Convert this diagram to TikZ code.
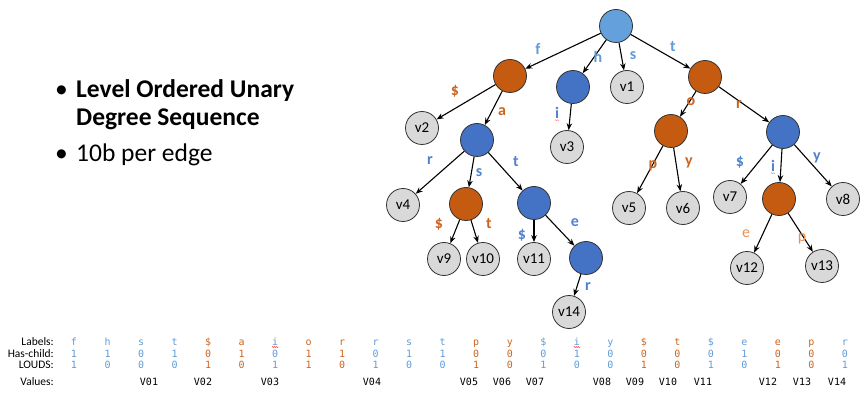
\documentclass[tikz,border=0pt]{standalone}
\usepackage{fontspec}
\setmainfont{Carlito}
\newfontfamily\tabfont{DejaVu Sans Mono}
\usetikzlibrary{arrows.meta,decorations.pathmorphing}
\definecolor{rootblue}{RGB}{100,160,220}
\definecolor{nodeblue}{RGB}{68,114,196}
\definecolor{nodeorange}{RGB}{197,90,17}
\definecolor{leafgray}{RGB}{217,217,217}
\definecolor{labroot}{RGB}{95,155,215}
\definecolor{labblue}{RGB}{80,130,210}
\definecolor{laborange}{RGB}{205,100,30}
\definecolor{lightorange}{RGB}{232,145,85}

\begin{document}
\begin{tikzpicture}
[x=1pt,y=-1pt,
 trie/.style={circle,draw=black!80,line width=.8pt,minimum size=33pt,inner sep=0pt},
 rootn/.style={trie,fill=rootblue},
 bnode/.style={trie,fill=nodeblue},
 onode/.style={trie,fill=nodeorange},
 leaf/.style={trie,fill=leafgray,font=\fontsize{15}{15}\selectfont},
 edge/.style={line width=1.1pt,-{Stealth[length=7pt,width=5.5pt]}},
 elab/.style={inner sep=0pt,font=\bfseries\fontsize{16}{16}\selectfont},
 cell/.style={inner sep=0pt,anchor=base,font=\tabfont\fontsize{10}{10}\selectfont},
 head/.style={inner sep=0pt,anchor=base east,font=\fontsize{11.5}{12}\selectfont},
 btxt/.style={inner sep=0pt,anchor=base west,font=\fontsize{25.5}{28}\selectfont},
 squig/.style={red!75,line width=.5pt,decorate,decoration={snake,amplitude=.5pt,segment length=2pt}}]
\useasboundingbox (0,0) rectangle (867,395);
% bullets
\node[btxt] (b1) at (55,98) {•};
\node[btxt,font=\bfseries\fontsize{25.5}{28}\selectfont] (t1) at (76,98) {Level Ordered Unary};
\node[btxt,font=\bfseries\fontsize{25.5}{28}\selectfont] (t2) at (76,126) {Degree Sequence};
\node[btxt] (b2) at (55,162) {•};
\node[btxt] (t3) at (76,162) {10b per edge};
% trie nodes
\node[rootn] (root) at (616,26) {};
\node[onode] (nf) at (510,76) {};
\node[bnode] (nh) at (573,87) {};
\node[leaf] (v1) at (627,87) {v1};
\node[onode] (nt) at (705,77) {};
\node[leaf] (v2) at (422,128) {v2};
\node[bnode] (na) at (477,140) {};
\node[leaf] (v3) at (567,147) {v3};
\node[onode] (no) at (671,131) {};
\node[bnode] (nr) at (783,132) {};
\node[leaf] (v4) at (403,205) {v4};
\node[onode] (ns) at (466,204) {};
\node[bnode] (nat) at (534,203) {};
\node[leaf] (v5) at (629,208) {v5};
\node[leaf] (v6) at (683,208) {v6};
\node[leaf] (v7) at (730,197) {v7};
\node[onode] (ni) at (779,199) {};
\node[leaf] (v8) at (843,199) {v8};
\node[leaf] (v9) at (444,259) {v9};
\node[leaf] (v10) at (483,259) {v10};
\node[leaf] (v11) at (534,259) {v11};
\node[bnode] (ne) at (586,258) {};
\node[leaf] (v12) at (747,268) {v12};
\node[leaf] (v13) at (822,266) {v13};
\node[leaf] (v14) at (569,312) {v14};
\foreach \from/\to in {root/nf,root/nh,root/v1,root/nt,nf/v2,nf/na,nh/v3,nt/no,nt/nr,
  na/v4,na/ns,na/nat,no/v5,no/v6,nr/v7,nr/ni,nr/v8,ns/v9,ns/v10,nat/v11,nat/ne,
  ni/v12,ni/v13,ne/v14}
\draw[edge] (\from) -- (\to);
% edge labels
\node[elab,text=labroot] (lf) at (538,49) {f};
\node[elab,text=labroot] (lh) at (598,57) {h};
\node[elab,text=labroot] (ls) at (633,56) {s};
\node[elab,text=labroot] (lt) at (673,47) {t};
\node[elab,text=laborange] (l1) at (455,91) {\$};
\node[elab,text=laborange] (l2) at (502,112) {a};
\node[elab,text=labblue] (l3) at (557,113) {i};
\node[elab,text=laborange] (l4) at (691,102) {o};
\node[elab,text=laborange] (l5) at (739,105) {r};
\node[elab,text=labblue] (l6) at (430,161) {r};
\node[elab,text=labblue] (l7) at (479,173) {s};
\node[elab,text=labblue] (l8) at (516,162) {t};
\node[elab,text=laborange] (l9) at (653,166) {p};
\node[elab,text=laborange] (l10) at (689,163) {y};
\node[elab,text=labblue] (l11) at (740,162) {\$};
\node[elab,text=labblue] (l12) at (773,166) {i};
\node[elab,text=labblue] (l13) at (817,158) {y};
\node[elab,text=laborange] (l14) at (439,224) {\$};
\node[elab,text=laborange] (l15) at (489,224) {t};
\node[elab,text=labblue] (l16) at (522,235) {\$};
\node[elab,text=labblue] (l17) at (575,223) {e};
\node[elab,text=labblue] (l18) at (588,287) {r};
\node[elab,text=lightorange,font=\fontsize{16}{16}\selectfont] (l19) at (746,234) {e};
\node[elab,text=lightorange,font=\fontsize{16}{16}\selectfont] (l20) at (802,239) {p};
\draw[squig,red!40] ([yshift=-1.5pt]l3.south west) -- ([yshift=-1.5pt]l3.south east);
\draw[squig,red!40] ([yshift=-1.5pt]l12.south west) -- ([yshift=-1.5pt]l12.south east);
% table
\node[head] (hlab) at (54,345) {Labels:};
\node[head] (hhas) at (54,357) {Has-child:};
\node[head] (hlouds) at (54,368) {LOUDS:};
\node[head] (hval) at (54,385) {Values:};
\foreach \l/\h/\d/\c [count=\i] in {f/1/1/labroot,h/1/0/labroot,s/0/0/labroot,t/1/0/labroot,
  {\$}/0/1/laborange,a/1/0/laborange,i/0/1/labroot,o/1/1/laborange,r/1/0/laborange,
  r/0/1/labroot,s/1/0/labroot,t/1/0/labroot,p/0/1/laborange,y/0/0/laborange,
  {\$}/0/1/labroot,i/1/0/labroot,y/0/0/labroot,{\$}/0/1/laborange,t/0/0/laborange,
  {\$}/0/1/labroot,e/1/0/labroot,e/0/1/laborange,p/0/0/laborange,r/0/1/labroot}
{
\node[cell,text=\c] (lab\i) at ({74+33.52*(\i-1)},345) {\l};
\node[cell,text=\c] (has\i) at ({74+33.52*(\i-1)},357) {\h};
\node[cell,text=\c] (lou\i) at ({74+33.52*(\i-1)},368) {\d};
}
\draw[squig] ([yshift=-2pt]lab7.base west) -- ([yshift=-2pt]lab7.base east);
\draw[squig] ([yshift=-2pt]lab16.base west) -- ([yshift=-2pt]lab16.base east);
\foreach \v/\x in {V01/149,V02/203,V03/270,V04/372,V05/469,V06/502,V07/535,
  V08/602,V09/635,V10/668,V11/703,V12/768,V13/802,V14/837}
\node[cell] (val\v) at (\x,385) {\v};
\end{tikzpicture}
\end{document}
